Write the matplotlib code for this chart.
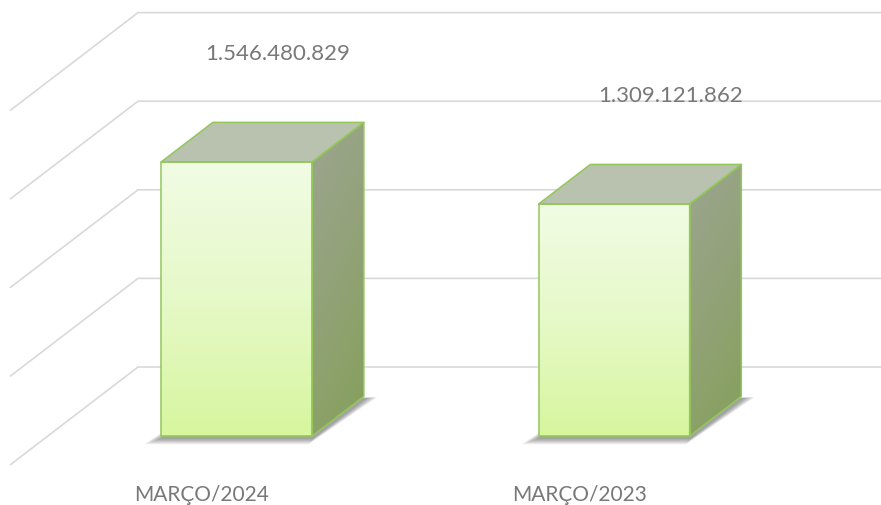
import numpy as np
import matplotlib
matplotlib.use('Agg')
import matplotlib.pyplot as plt
from matplotlib.patches import Polygon
from matplotlib.colors import LinearSegmentedColormap

# ---------------- data ----------------
categories = ['MARÇO/2024', 'MARÇO/2023']
values = [1546480829, 1309121862]
value_labels = ['1.546.480.829', '1.309.121.862']
gridline_values = [0, 500_000_000, 1_000_000_000, 1_500_000_000, 2_000_000_000]

SCALE = 1e9
W, H = 881, 506
fig = plt.figure(figsize=(W / 100, H / 100), dpi=100)
ax = fig.add_axes([0, 0, 1, 1])
ax.set_axis_off()

# layout of the oblique 3-D projection
PX_U = 377.5      # pixels per category unit
PX_V = 177.2      # pixels per billion
X0 = 138          # pixel x of the back-left corner
Y0 = 368          # pixel y of zero on the back wall
ax.set_xlim(-0.5 - X0 / PX_U, -0.5 + (W - X0) / PX_U)
ax.set_ylim((Y0 - H) / PX_V, Y0 / PX_V)

DEPTH_DX = -128 / PX_U
DEPTH_DY = -98 / PX_V
D_BACK, D_FRONT = 0.30, 0.704
HALF_W = 0.2
LABEL_DX = [-11, 5]   # pixel nudges of the value labels


def P(u, v, d):
    return (u + DEPTH_DX * d, v + DEPTH_DY * d)


# ---------------- walls / gridlines ----------------
for g in gridline_values:
    v = g / SCALE
    pts = [P(-0.5, v, 1), P(-0.5, v, 0), P(1.55, v, 0)]
    xs, ys = zip(*pts)
    ax.plot(xs, ys, color='#D9D9D9', lw=1.2, zorder=1, solid_capstyle='butt')


def grad_fill(poly, colors, zorder, mode='v'):
    patch = Polygon(poly, closed=True, facecolor='none', edgecolor='none')
    ax.add_patch(patch)
    xs, ys = zip(*poly)
    n = 200
    if mode == 'v':
        grad = np.linspace(0, 1, n).reshape(-1, 1)
    else:
        yy, xx = np.mgrid[0:1:n * 1j, 0:1:n * 1j]
        grad = 0.75 * yy + 0.25 * xx
    cmap = LinearSegmentedColormap.from_list('g', colors)
    im = ax.imshow(grad, cmap=cmap, extent=[min(xs), max(xs), min(ys), max(ys)],
                   origin='upper', aspect='auto', zorder=zorder, interpolation='bilinear')
    im.set_clip_path(patch)


EDGE = '#93C75A'
for i, val in enumerate(values):
    v = val / SCALE
    # soft shadow on the floor
    px_u = 1 / PX_U
    for k in range(8):
        e = (8 - k) * 1.3 * px_u
        ed = (8 - k) * 0.008
        shadow = [P(i - HALF_W - e, 0, D_FRONT + ed), P(i + HALF_W + e * 0.3, 0, D_FRONT + ed),
                  P(i + HALF_W + e, 0, D_BACK - ed * 0.2), P(i - HALF_W, 0, D_BACK)]
        shadow = [(x + 1.5 * px_u, y - 2 / PX_V) for x, y in shadow]
        ax.add_patch(Polygon(shadow, closed=True, facecolor='#404040', edgecolor='none',
                             alpha=0.075, zorder=2))

    front = [P(i - HALF_W, 0, D_FRONT), P(i + HALF_W, 0, D_FRONT),
             P(i + HALF_W, v, D_FRONT), P(i - HALF_W, v, D_FRONT)]
    top = [P(i - HALF_W, v, D_FRONT), P(i + HALF_W, v, D_FRONT),
           P(i + HALF_W, v, D_BACK), P(i - HALF_W, v, D_BACK)]
    side = [P(i + HALF_W, 0, D_FRONT), P(i + HALF_W, 0, D_BACK),
            P(i + HALF_W, v, D_BACK), P(i + HALF_W, v, D_FRONT)]

    grad_fill(front, ['#F1FCE4', '#E6F9C8', '#D7F69E'], 3)
    grad_fill(side, ['#9CA590', '#92A277', '#84A05A'], 3, mode='d')
    ax.add_patch(Polygon(top, closed=True, facecolor='#B8C2AE', edgecolor='none', zorder=3))
    for poly in (front, side, top):
        ax.add_patch(Polygon(poly, closed=True, facecolor='none', edgecolor=EDGE,
                             lw=1.1, joinstyle='round', zorder=4))

    # value label above the bar
    ax.annotate(value_labels[i], xy=P(i, v, D_BACK), xytext=(LABEL_DX[i], 69),
                textcoords='offset pixels', ha='center', va='center',
                fontsize=16, color='#787878', family='Lato', zorder=5)
    # category label at the front of the floor
    ax.annotate(categories[i], xy=P(i, 0, 1), xytext=(3, -29),
                textcoords='offset pixels', ha='center', va='center',
                fontsize=15, color='#787878', family='Lato', zorder=5)

fig.savefig('out.png', dpi=100, facecolor='white')
